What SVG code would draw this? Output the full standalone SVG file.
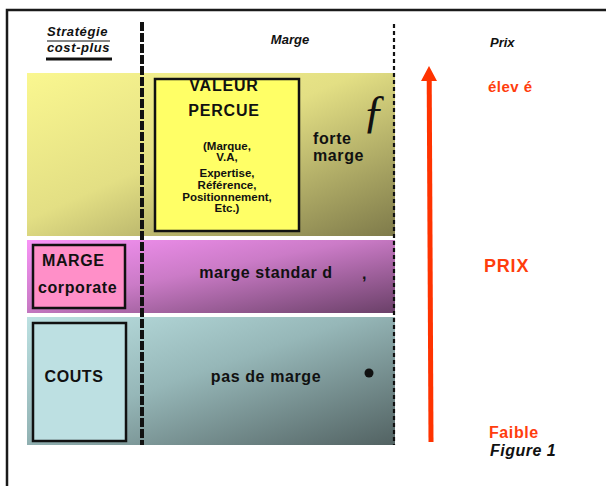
<svg xmlns="http://www.w3.org/2000/svg" width="606" height="486" viewBox="0 0 606 486">
<defs>
<linearGradient id="gY" x1="0" y1="0" x2="1" y2="1"><stop offset="0" stop-color="#faf790"/><stop offset="0.45" stop-color="#e3df84"/><stop offset="1" stop-color="#7e7a4a"/></linearGradient>
<linearGradient id="gP" x1="0" y1="0" x2="1" y2="1"><stop offset="0" stop-color="#f893f6"/><stop offset="0.45" stop-color="#cb7bc7"/><stop offset="1" stop-color="#6a4068"/></linearGradient>
<linearGradient id="gT" x1="0" y1="0" x2="1" y2="1"><stop offset="0" stop-color="#bce1e2"/><stop offset="0.45" stop-color="#96b7b8"/><stop offset="1" stop-color="#526262"/></linearGradient>
<style>
text{font-family:"Liberation Sans",Arial,sans-serif;font-weight:bold;fill:#111}
.hd{font-style:italic;font-size:13px}
.lbl{font-size:16px;letter-spacing:0.6px}
.sm{font-size:11.5px;text-anchor:middle}
.red{fill:#ff3d0d}
.box{stroke:#111;stroke-width:2.5}
</style>
</defs>
<rect width="606" height="486" fill="#fff"/>
<path d="M7 486V10H606" fill="none" stroke="#1a1a1a" stroke-width="2.5"/>

<g id="header">
<text class="hd" x="47" y="36" letter-spacing="0.6">Stratégie</text>
<line x1="47" y1="41" x2="110" y2="41" stroke="#111" stroke-width="1.2"/>
<text class="hd" x="47" y="52" letter-spacing="0.6">cost-plus</text>
<line x1="46" y1="59" x2="112" y2="59" stroke="#111" stroke-width="3"/>
<text class="hd" x="290" y="44" text-anchor="middle">Marge</text>
<text class="hd" x="490" y="47">Prix</text>
</g>

<g id="band-valeur">
<rect x="27" y="73" width="368" height="163" fill="url(#gY)"/>
<text class="lbl" x="313" y="144">forte</text>
<text class="lbl" x="313" y="161">marge</text>
<text x="374" y="127" text-anchor="middle" style="font-family:'Liberation Serif',serif;font-style:italic;font-weight:normal;font-size:46px">ƒ</text>
</g>

<g id="valeur-percue">
<rect class="box" x="155" y="79" width="144" height="152" fill="#ffff66"/>
<text x="224" y="91" text-anchor="middle" style="font-size:16px;letter-spacing:0.8px">VALEUR</text>
<text x="224" y="116" text-anchor="middle" style="font-size:16px;letter-spacing:0.8px">PERCUE</text>
<text class="sm" x="227" y="150">(Marque,</text>
<text class="sm" x="227" y="161">V.A,</text>
<text class="sm" x="227" y="177">Expertise,</text>
<text class="sm" x="227" y="189">Référence,</text>
<text class="sm" x="227" y="201">Positionnement,</text>
<text class="sm" x="227" y="212">Etc.)</text>
</g>

<g id="band-marge">
<rect x="27" y="240" width="368" height="73" fill="url(#gP)"/>
<text class="lbl" x="266" y="278" text-anchor="middle">marge standar d</text>
<text x="362" y="279" style="font-size:16px">,</text>
</g>

<g id="marge-corporate">
<rect class="box" x="33" y="245" width="92" height="63" fill="#ff8fc8"/>
<text class="lbl" x="42" y="266">MARGE</text>
<text class="lbl" x="38" y="293">corporate</text>
</g>

<g id="band-couts">
<rect x="27" y="317" width="368" height="128" fill="url(#gT)"/>
<text class="lbl" x="266" y="382" text-anchor="middle" letter-spacing="1">pas de marge</text>
<circle cx="369" cy="373" r="4.5" fill="#111"/>
</g>

<g id="couts">
<rect class="box" x="33" y="323" width="93" height="118" fill="#bde0e2"/>
<text class="lbl" x="74" y="382" text-anchor="middle" letter-spacing="1.5">COUTS</text>
</g>

<g id="connectors">
<line x1="142" y1="22" x2="142" y2="445" stroke="#111" stroke-width="4" stroke-dasharray="9 2"/>
<line x1="394" y1="24" x2="394" y2="445" stroke="#111" stroke-width="2.2" stroke-dasharray="4 3"/>
<line x1="431" y1="442" x2="429.2" y2="78" stroke="#ff3300" stroke-width="5"/>
<polygon points="429,66 437,81 421,81" fill="#ff3300"/>
</g>

<g id="prix-labels">
<text class="red" x="488" y="92" style="font-size:15px;letter-spacing:0.5px">élev é</text>
<text class="red" x="484" y="272" style="font-size:18px;letter-spacing:0.8px">PRIX</text>
<text class="red" x="489" y="438" style="font-size:16px;letter-spacing:0.6px">Faible</text>
<text x="490" y="456" style="font-size:16px;font-style:italic;letter-spacing:0.5px">Figure 1</text>
</g>
</svg>
